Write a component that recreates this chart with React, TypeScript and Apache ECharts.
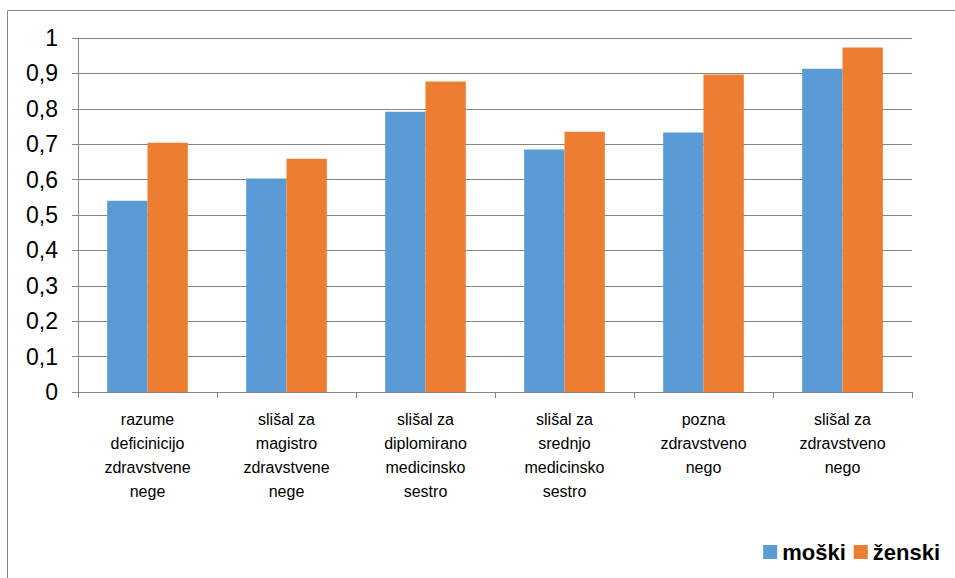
import React, { useEffect, useRef } from "react";
import * as echarts from "echarts";

const categories = [
  "razume\ndeficinicijo\nzdravstvene\nnege",
  "slišal za\nmagistro\nzdravstvene\nnege",
  "slišal za\ndiplomirano\nmedicinsko\nsestro",
  "slišal za\nsrednjo\nmedicinsko\nsestro",
  "pozna\nzdravstveno\nnego",
  "slišal za\nzdravstveno\nnego",
];
const moski = [0.54, 0.603, 0.792, 0.685, 0.733, 0.913];
const zenski = [0.704, 0.659, 0.877, 0.735, 0.897, 0.973];
const seriesNames = ["moški", "ženski"];
const yTicks = { min: 0, max: 1, interval: 0.1 };

export default function App() {
  const ref = useRef<HTMLDivElement>(null);

  useEffect(() => {
    if (!ref.current) return;
    const chart = echarts.init(ref.current, undefined, { renderer: "svg" });
    const font = "Arial, 'Liberation Sans', sans-serif";
    chart.setOption({
      animation: false,
      backgroundColor: "#ffffff",
      textStyle: { fontFamily: font },
      graphic: [
        {
          type: "rect",
          shape: { x: 7.5, y: 10.5, width: 1000, height: 1000 },
          style: { fill: "none", stroke: "#868686", lineWidth: 1 },
          silent: true,
          z: -1,
        },
      ],
      grid: { left: 78, right: 43, top: 38, bottom: 186 },
      legend: {
        data: seriesNames,
        orient: "horizontal",
        right: 10,
        top: 536,
        width: 300,
        icon: "rect",
        itemWidth: 14,
        itemHeight: 14,
        itemGap: 8,
        textStyle: {
          fontFamily: font,
          fontSize: 22,
          fontWeight: "bold",
          color: "#000",
        },
      },
      xAxis: {
        type: "category",
        data: categories,
        axisLine: { lineStyle: { color: "#868686", width: 1 } },
        axisTick: { show: true, length: 6, lineStyle: { color: "#868686" } },
        axisLabel: {
          interval: 0,
          margin: 15,
          color: "#000",
          fontFamily: font,
          fontSize: 16,
          lineHeight: 24,
          align: "center",
        },
      },
      yAxis: {
        type: "value",
        min: yTicks.min,
        max: yTicks.max,
        interval: yTicks.interval,
        axisLine: { show: true, lineStyle: { color: "#868686", width: 1 } },
        axisTick: { show: true, length: 6, lineStyle: { color: "#868686" } },
        splitLine: { lineStyle: { color: "#868686", width: 1 } },
        axisLabel: {
          margin: 20,
          color: "#000",
          fontFamily: font,
          fontSize: 23,
          formatter: (v: number) =>
            Number.isInteger(v) ? String(v) : v.toFixed(1).replace(".", ","),
        },
      },
      series: [
        {
          name: seriesNames[0],
          type: "bar",
          data: moski,
          itemStyle: { color: "#5B9BD5" },
          barGap: "0%",
          barCategoryGap: "42%",
        },
        {
          name: seriesNames[1],
          type: "bar",
          data: zenski,
          itemStyle: { color: "#ED7D31" },
          barGap: "0%",
          barCategoryGap: "42%",
        },
      ],
    });
    return () => chart.dispose();
  }, []);

  return (
    <div
      ref={ref}
      style={{ position: "absolute", left: 0, top: 0, width: 955, height: 578 }}
    />
  );
}
